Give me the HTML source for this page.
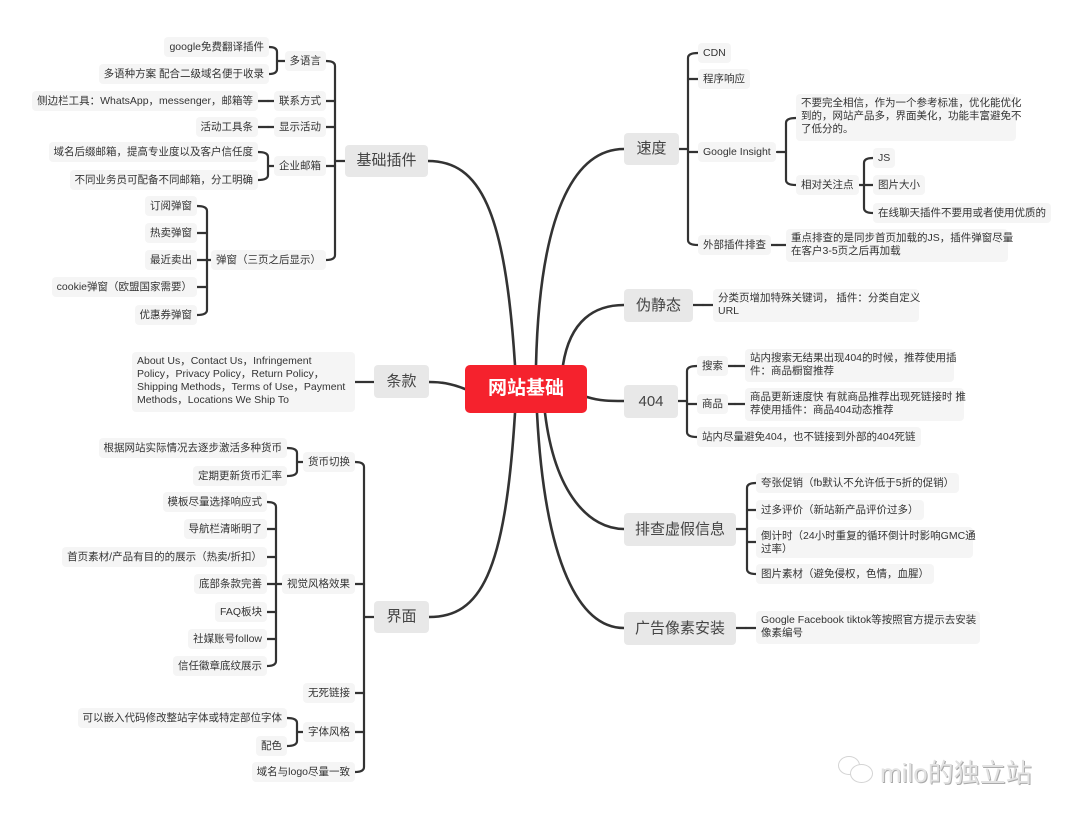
<!DOCTYPE html>
<html><head><meta charset="utf-8"><style>
body{margin:0;width:1080px;height:819px;background:#fff;position:relative;overflow:hidden;font-family:"Liberation Sans","Noto Sans CJK SC",sans-serif;color:#333}
.n{position:absolute;height:20px;line-height:20px;padding:0 5px;background:#f5f5f5;border-radius:4px;font-size:10.5px;white-space:nowrap;box-sizing:border-box}
.b{position:absolute;padding:3px 5px;background:#f5f5f5;border-radius:4px;font-size:10.5px;line-height:13px;box-sizing:border-box;white-space:nowrap}
.m{position:absolute;background:#e8e8e8;border-radius:4px;font-size:15px;color:#444;text-align:center;box-sizing:border-box;white-space:nowrap}
svg{position:absolute;left:0;top:0}
</style></head><body>
<svg id="s" width="1080" height="819" fill="none" stroke="#333" stroke-width="2.2" stroke-linecap="round">
<path stroke-width="2.6" d="M515,365 C505,210 480,161 428,161"/>
<path stroke-width="2.6" d="M515,413 C505,575 480,617 429,617"/>
<path stroke-width="2.6" d="M465,389 C450,383 440,382 429,382"/>
<path stroke-width="2.6" d="M536,365 C540,200 580,149 624,149"/>
<path stroke-width="2.6" d="M563,365 C570,320 595,305 624,305"/>
<path stroke-width="2.6" d="M587,397 C600,401 610,401 624,401"/>
<path stroke-width="2.6" d="M545,413 C555,495 590,529 624,529"/>
<path stroke-width="2.6" d="M537,413 C545,565 580,628 624,628"/>
<path d="M374,382 L355,382"/>
</svg>

<div style="position:absolute;left:465px;top:365px;width:122px;height:48px;background:#f5222d;border-radius:5px;color:#fff;font-size:19px;font-weight:bold;text-align:center;line-height:48px">网站基础</div>

<div class="m" style="left:345px;top:145px;width:83px;height:32px;line-height:32px">基础插件</div>
<div class="m" style="left:374px;top:365px;width:55px;height:33px;line-height:33px">条款</div>
<div class="m" style="left:374px;top:601px;width:55px;height:32px;line-height:32px">界面</div>
<div class="m" style="left:624px;top:133px;width:55px;height:32px;line-height:32px">速度</div>
<div class="m" style="left:624px;top:289px;width:69px;height:33px;line-height:33px">伪静态</div>
<div class="m" style="left:624px;top:385px;width:54px;height:33px;line-height:33px">404</div>
<div class="m" style="left:624px;top:513px;width:112px;height:33px;line-height:33px">排查虚假信息</div>
<div class="m" style="left:624px;top:612px;width:112px;height:33px;line-height:33px">广告像素安装</div>

<div class="n" style="right:811px;top:37px">google免费翻译插件</div>
<div class="n" style="right:811px;top:64px">多语种方案 配合二级域名便于收录</div>
<div class="n" style="right:754px;top:51px">多语言</div>
<div class="n" style="right:754px;top:91px">联系方式</div>
<div class="n" style="right:822px;top:91px">侧边栏工具：WhatsApp，messenger，邮箱等</div>
<div class="n" style="right:754px;top:117px">显示活动</div>
<div class="n" style="right:822px;top:117px">活动工具条</div>
<div class="n" style="right:754px;top:156px">企业邮箱</div>
<div class="n" style="right:822px;top:142px">域名后缀邮箱，提高专业度以及客户信任度</div>
<div class="n" style="right:822px;top:170px">不同业务员可配备不同邮箱，分工明确</div>
<div class="n" style="right:754px;top:250px">弹窗（三页之后显示）</div>
<div class="n" style="right:883px;top:196px">订阅弹窗</div>
<div class="n" style="right:883px;top:223px">热卖弹窗</div>
<div class="n" style="right:883px;top:250px">最近卖出</div>
<div class="n" style="right:883px;top:277px">cookie弹窗（欧盟国家需要）</div>
<div class="n" style="right:883px;top:305px">优惠券弹窗</div>

<div class="b" style="left:132px;top:352px;width:223px;height:60px">About Us，Contact Us，Infringement<br>Policy，Privacy Policy，Return Policy，<br>Shipping Methods，Terms of Use，Payment<br>Methods，Locations We Ship To</div>

<div class="n" style="right:725px;top:452px">货币切换</div>
<div class="n" style="right:793px;top:438px">根据网站实际情况去逐步激活多种货币</div>
<div class="n" style="right:793px;top:466px">定期更新货币汇率</div>
<div class="n" style="right:725px;top:574px">视觉风格效果</div>
<div class="n" style="right:813px;top:492px">模板尽量选择响应式</div>
<div class="n" style="right:813px;top:519px">导航栏清晰明了</div>
<div class="n" style="right:813px;top:547px">首页素材/产品有目的的展示（热卖/折扣）</div>
<div class="n" style="right:813px;top:574px">底部条款完善</div>
<div class="n" style="right:813px;top:602px">FAQ板块</div>
<div class="n" style="right:813px;top:629px">社媒账号follow</div>
<div class="n" style="right:813px;top:656px">信任徽章底纹展示</div>
<div class="n" style="right:725px;top:683px">无死链接</div>
<div class="n" style="right:725px;top:722px">字体风格</div>
<div class="n" style="right:793px;top:708px">可以嵌入代码修改整站字体或特定部位字体</div>
<div class="n" style="right:793px;top:736px">配色</div>
<div class="n" style="right:725px;top:762px">域名与logo尽量一致</div>

<div class="n" style="left:698px;top:43px">CDN</div>
<div class="n" style="left:698px;top:69px">程序响应</div>
<div class="n" style="left:698px;top:142px">Google Insight</div>
<div class="b" style="left:796px;top:94px;width:220px;height:47px">不要完全相信，作为一个参考标准，优化能优化<br>到的，网站产品多，界面美化，功能丰富避免不<br>了低分的。</div>
<div class="n" style="left:796px;top:175px">相对关注点</div>
<div class="n" style="left:873px;top:148px">JS</div>
<div class="n" style="left:873px;top:175px">图片大小</div>
<div class="n" style="left:873px;top:203px">在线聊天插件不要用或者使用优质的</div>
<div class="n" style="left:698px;top:235px">外部插件排查</div>
<div class="b" style="left:786px;top:229px;width:222px;height:33px">重点排查的是同步首页加载的JS，插件弹窗尽量<br>在客户3-5页之后再加载</div>

<div class="b" style="left:713px;top:289px;width:206px;height:33px">分类页增加特殊关键词， 插件：分类自定义<br>URL</div>

<div class="n" style="left:697px;top:356px">搜索</div>
<div class="b" style="left:745px;top:349px;width:209px;height:33px">站内搜索无结果出现404的时候，推荐使用插<br>件：商品橱窗推荐</div>
<div class="n" style="left:697px;top:394px">商品</div>
<div class="b" style="left:745px;top:388px;width:219px;height:33px">商品更新速度快 有就商品推荐出现死链接时 推<br>荐使用插件：商品404动态推荐</div>
<div class="n" style="left:697px;top:427px">站内尽量避免404，也不链接到外部的404死链</div>

<div class="n" style="left:756px;top:473px">夸张促销（fb默认不允许低于5折的促销）</div>
<div class="n" style="left:756px;top:500px">过多评价（新站新产品评价过多）</div>
<div class="b" style="left:756px;top:527px;width:217px;height:31px">倒计时（24小时重复的循环倒计时影响GMC通<br>过率）</div>
<div class="n" style="left:756px;top:564px">图片素材（避免侵权，色情，血腥）</div>
<div class="b" style="left:756px;top:611px;width:224px;height:33px">Google Facebook tiktok等按照官方提示去安装<br>像素编号</div>

<div style="position:absolute;left:838px;top:756px;width:20px;height:17px;border:1.5px solid #d4d4d4;border-radius:50%"></div>
<div style="position:absolute;left:850px;top:764px;width:21px;height:17px;border:1.5px solid #d4d4d4;border-radius:50%;background:#fff"></div>
<div style="position:absolute;left:880px;top:753px;font-size:26px;color:#e2e2e2;text-shadow:1px 1px 0 #aaa">milo的独立站</div>

<script>
var s=document.getElementById('s');
function p(d){var e=document.createElementNS('http://www.w3.org/2000/svg','path');e.setAttribute('d',d);s.appendChild(e);}
function br(px,py,x,ce,ys){
 p('M'+px+','+py+' L'+x+','+py);
 var mn=Math.min.apply(0,ys),mx=Math.max.apply(0,ys),r=5;
 if(ys.length==1){p('M'+x+','+ys[0]+' L'+ce+','+ys[0]);return;}
 p('M'+ce+','+mn+' Q'+x+','+mn+' '+x+','+(mn+r)+' L'+x+','+(mx-r)+' Q'+x+','+mx+' '+ce+','+mx);
 ys.forEach(function(y){if(y!=mn&&y!=mx)p('M'+x+','+y+' L'+ce+','+y);});
}
br(345,161,335,326,[61,101,127,166,260]);
br(288,61,277,269,[47,74]);
br(277,101,268,258,[101]);
br(277,127,268,258,[127]);
br(277,166,268,258,[152,180]);
br(217,260,207,197,[206,233,260,287,315]);
br(374,617,364,355,[462,584,693,732,772]);
br(307,462,297,287,[448,476]);
br(287,584,276,267,[502,529,557,584,612,639,666]);
br(307,732,297,287,[718,746]);
br(679,149,688,698,[53,79,152,245]);
br(777,152,786,796,[118,185]);
br(854,185,864,873,[158,185,213]);
br(767,245,777,786,[245]);
br(693,305,703,713,[305]);
br(678,401,687,697,[366,404,437]);
br(726,366,735,745,[366]);
br(726,404,735,745,[404]);
br(736,529,747,756,[483,510,542,574]);
br(736,628,746,756,[628]);
</script>
</body></html>
